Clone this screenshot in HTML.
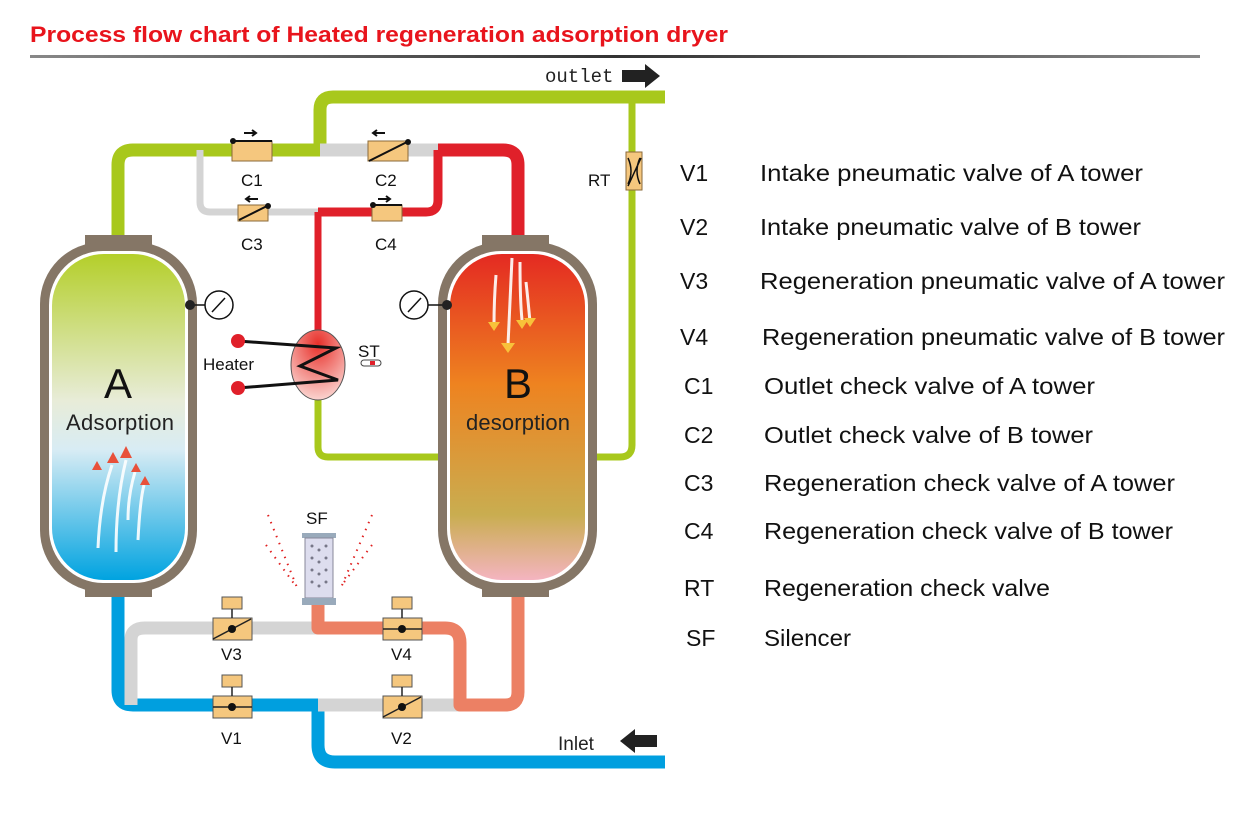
<!DOCTYPE html>
<html><head><meta charset="utf-8"><style>
body{margin:0;background:#fff;width:1236px;height:830px;overflow:hidden}
svg{position:absolute;left:0;top:0}
.t{font-family:"Liberation Sans",sans-serif;font-size:23px;fill:#111}
.l{font-family:"Liberation Sans",sans-serif;font-size:17px;fill:#111}
</style></head><body>
<svg width="1236" height="830" viewBox="0 0 1236 830">
<defs>
<linearGradient id="ga" x1="0" y1="0" x2="0" y2="1">
<stop offset="0" stop-color="#b4cf2a"/><stop offset="0.45" stop-color="#e8ecd8"/><stop offset="0.6" stop-color="#d8ecf4"/><stop offset="1" stop-color="#00a3e0"/></linearGradient>
<linearGradient id="gb" x1="0" y1="0" x2="0" y2="1">
<stop offset="0" stop-color="#e42a22"/><stop offset="0.4" stop-color="#ee8320"/><stop offset="0.8" stop-color="#c9ad50"/><stop offset="1" stop-color="#f4b4c0"/></linearGradient>
<radialGradient id="gh" cx="0.5" cy="0.2" r="0.9"><stop offset="0" stop-color="#e8302a"/><stop offset="1" stop-color="#fde8e4"/></radialGradient>
<linearGradient id="gl" x1="0" x2="1"><stop offset="0" stop-color="#888"/><stop offset="0.5" stop-color="#333"/><stop offset="1" stop-color="#888"/></linearGradient>
</defs>
<text x="30" y="42" font-family="Liberation Sans,sans-serif" font-size="22" font-weight="bold" fill="#e8141c" textLength="698" lengthAdjust="spacingAndGlyphs">Process flow chart of Heated regeneration adsorption dryer</text>
<rect x="30" y="55" width="1170" height="3" fill="url(#gl)"/>
<g fill="none" stroke-width="13" stroke-linejoin="round">
<path d="M320 150 V110 Q320 97 333 97 H665" stroke="#a8c81c"/>
<path d="M632 97 V445 Q632 457 620 457 H590" stroke="#a8c81c" stroke-width="7"/>
<path d="M118 238 V165 Q118 150 133 150 H320" stroke="#a8c81c"/>
<path d="M320 150 H438" stroke="#d4d4d4"/>
<path d="M438 150 H503 Q518 150 518 165 V238" stroke="#e0202a"/>
<path d="M438 150 V200 Q438 212 426 212 H318" stroke="#e0202a" stroke-width="9"/>
<path d="M200 150 V202 Q200 212 210 212 H318" stroke="#d4d4d4" stroke-width="7"/>
<path d="M318 212 V332" stroke="#e0202a" stroke-width="7"/>
<path d="M318 398 V447 Q318 457 328 457 H440" stroke="#a8c81c" stroke-width="7"/>
<path d="M118 585 V690 Q118 705 133 705 H318 V745 Q318 762 335 762 H665" stroke="#009fdf"/>
<path d="M131 705 V640 Q131 628 145 628 H318" stroke="#d4d4d4"/>
<path d="M318 705 H460" stroke="#d4d4d4"/>
<path d="M318 605 V628 H445 Q460 628 460 643 V705 H505 Q518 705 518 692 V585" stroke="#ec8064"/>
</g>
<g>
<rect x="85" y="235" width="67" height="12" fill="#857666"/>
<rect x="40" y="242" width="157" height="350" rx="62" fill="#857666"/>
<rect x="49" y="251" width="139" height="332" rx="54" fill="#fff"/>
<rect x="52" y="254" width="133" height="326" rx="52" fill="url(#ga)"/>
<rect x="85" y="585" width="67" height="12" fill="#857666"/>
<rect x="482" y="235" width="67" height="12" fill="#857666"/>
<rect x="438" y="242" width="159" height="350" rx="62" fill="#857666"/>
<rect x="447" y="251" width="141" height="332" rx="54" fill="#fff"/>
<rect x="450" y="254" width="135" height="326" rx="52" fill="url(#gb)"/>
<rect x="482" y="585" width="67" height="12" fill="#857666"/>
</g>
<text x="118" y="398" text-anchor="middle" font-family="Liberation Sans,sans-serif" font-size="42" fill="#111">A</text>
<text x="120" y="430" text-anchor="middle" font-family="Liberation Sans,sans-serif" font-size="22" fill="#222" textLength="108">Adsorption</text>
<text x="518" y="398" text-anchor="middle" font-family="Liberation Sans,sans-serif" font-size="42" fill="#111">B</text>
<text x="518" y="430" text-anchor="middle" font-family="Liberation Sans,sans-serif" font-size="22" fill="#222" textLength="104">desorption</text>
<g stroke="#fff" stroke-width="3" fill="none" opacity="0.9">
<path d="M98 548 Q100 500 112 465"/><path d="M116 552 Q116 500 126 460"/><path d="M128 520 Q128 495 135 472"/><path d="M138 540 Q140 500 144 485"/>
<path d="M512 258 Q510 300 508 345"/><path d="M520 262 Q520 300 522 320"/><path d="M526 282 Q528 300 530 322"/><path d="M496 275 Q494 300 494 325"/>
</g>
<g fill="#e8503a"><path d="M107 463 l6-11 6 11z"/><path d="M120 458 l6-12 6 12z"/><path d="M131 472 l5-9 5 9z"/><path d="M140 485 l5-9 5 9z"/><path d="M92 470 l5-9 5 9z"/></g>
<g fill="#f8c23a"><path d="M501 343 l7 10 7-10z"/><path d="M488 322 l6 9 6-9z"/><path d="M516 320 l6 9 6-9z"/><path d="M524 318 l6 9 6-9z"/></g>
<g stroke="#111" stroke-width="1.5" fill="#fff">
<line x1="190" y1="305" x2="205" y2="305"/><circle cx="219" cy="305" r="14"/>
<line x1="447" y1="305" x2="428" y2="305"/><circle cx="414" cy="305" r="14"/>
<line x1="212" y1="312" x2="225" y2="298"/><line x1="421" y1="298" x2="408" y2="312"/>
</g>
<circle cx="190" cy="305" r="5" fill="#222"/><circle cx="447" cy="305" r="5" fill="#222"/>
<ellipse cx="318" cy="365" rx="27" ry="35" fill="url(#gh)" stroke="#555" stroke-width="1"/>
<path d="M238 341 L336 348 L300 366 L338 380 L238 388" fill="none" stroke="#111" stroke-width="3"/>
<circle cx="238" cy="341" r="7" fill="#e0202a"/><circle cx="238" cy="388" r="7" fill="#e0202a"/>
<text x="203" y="370" class="l" font-size="18">Heater</text>
<text x="358" y="357" class="l" font-size="18">ST</text>
<rect x="361" y="360" width="20" height="6" rx="3" fill="#fff" stroke="#444"/><rect x="370" y="361" width="5" height="4" fill="#e0202a"/>
<g fill="#f5c77e" stroke="#8a6a3a" stroke-width="1">
<rect x="232" y="141" width="40" height="20"/><rect x="368" y="141" width="40" height="20"/>
<rect x="238" y="205" width="30" height="16"/><rect x="372" y="205" width="30" height="16"/>
<rect x="626" y="152" width="16" height="38"/>
</g>
<g stroke="#111" stroke-width="2" fill="none">
<line x1="233" y1="141" x2="272" y2="141"/><line x1="369" y1="161" x2="407" y2="142"/>
<line x1="239" y1="220" x2="267" y2="206"/><line x1="373" y1="205" x2="402" y2="205"/>
<path d="M244 133h12m-4-3l4 3-4 3M385 133h-12m4-3l-4 3 4 3M258 199h-12m4-3l-4 3 4 3M378 199h12m-4-3l4 3-4 3"/>
<path d="M628 158 Q634 171 628 184 M640 158 Q634 171 640 184 M628 186 L641 158" stroke-width="1.5"/>
</g>
<circle cx="233" cy="141" r="3" fill="#111"/><circle cx="408" cy="142" r="3" fill="#111"/><circle cx="268" cy="206" r="3" fill="#111"/><circle cx="373" cy="205" r="3" fill="#111"/>
<g class="l"><text x="241" y="186">C1</text><text x="375" y="186">C2</text><text x="241" y="250">C3</text><text x="375" y="250">C4</text><text x="588" y="186">RT</text></g>
<g fill="#f5c77e" stroke="#555" stroke-width="1">
<rect x="213" y="618" width="39" height="22"/><rect x="383" y="618" width="39" height="22"/>
<rect x="213" y="696" width="39" height="22"/><rect x="383" y="696" width="39" height="22"/>
<rect x="222" y="597" width="20" height="12"/><rect x="392" y="597" width="20" height="12"/>
<rect x="222" y="675" width="20" height="12"/><rect x="392" y="675" width="20" height="12"/>
</g>
<g stroke="#222" stroke-width="1.5">
<line x1="232" y1="609" x2="232" y2="618"/><line x1="402" y1="609" x2="402" y2="618"/>
<line x1="232" y1="687" x2="232" y2="696"/><line x1="402" y1="687" x2="402" y2="696"/>
<line x1="213" y1="639" x2="251" y2="619"/><line x1="383" y1="629" x2="422" y2="629"/>
<line x1="213" y1="707" x2="252" y2="707"/><line x1="383" y1="717" x2="421" y2="697"/>
</g>
<g fill="#111"><circle cx="232" cy="629" r="4"/><circle cx="402" cy="629" r="4"/><circle cx="232" cy="707" r="4"/><circle cx="402" cy="707" r="4"/></g>
<g class="l"><text x="221" y="660">V3</text><text x="391" y="660">V4</text><text x="221" y="744">V1</text><text x="391" y="744">V2</text><text x="306" y="524">SF</text></g>
<rect x="302" y="533" width="34" height="5" fill="#9ab" />
<rect x="305" y="538" width="28" height="60" fill="#dde" stroke="#889"/>
<rect x="302" y="598" width="34" height="7" fill="#9ab"/>
<g fill="#778"><circle cx="312" cy="546" r="1.5"/><circle cx="319" cy="550" r="1.5"/><circle cx="326" cy="546" r="1.5"/><circle cx="312" cy="558" r="1.5"/><circle cx="319" cy="562" r="1.5"/><circle cx="326" cy="558" r="1.5"/><circle cx="312" cy="570" r="1.5"/><circle cx="319" cy="574" r="1.5"/><circle cx="326" cy="570" r="1.5"/><circle cx="312" cy="582" r="1.5"/><circle cx="319" cy="586" r="1.5"/><circle cx="326" cy="582" r="1.5"/></g>
<g stroke="#e02020" stroke-width="2" stroke-dasharray="1.5 6" fill="none">
<path d="M268 515 L298 590"/><path d="M266 545 L295 585"/><path d="M372 515 L340 590"/><path d="M372 545 L342 585"/>
</g>
<text x="545" y="82" font-family="Liberation Mono,monospace" font-size="19" fill="#222">outlet</text>
<path d="M622 70 H645 V64 L660 76 L645 88 V82 H622z" fill="#222"/>
<text x="558" y="750" font-family="Liberation Sans,sans-serif" font-size="19" fill="#222">Inlet</text>
<path d="M657 735 H635 V729 L620 741 L635 753 V747 H657z" fill="#222"/>
<g class="t" lengthAdjust="spacingAndGlyphs">
<text x="680" y="181">V1</text><text x="760" y="181" textLength="383" lengthAdjust="spacingAndGlyphs">Intake pneumatic valve of A tower</text>
<text x="680" y="235">V2</text><text x="760" y="235" textLength="381" lengthAdjust="spacingAndGlyphs">Intake pneumatic valve of B tower</text>
<text x="680" y="289">V3</text><text x="760" y="289" textLength="465" lengthAdjust="spacingAndGlyphs">Regeneration pneumatic valve of A tower</text>
<text x="680" y="345">V4</text><text x="762" y="345" textLength="463" lengthAdjust="spacingAndGlyphs">Regeneration pneumatic valve of B tower</text>
<text x="684" y="394">C1</text><text x="764" y="394" textLength="331" lengthAdjust="spacingAndGlyphs">Outlet check valve of A tower</text>
<text x="684" y="443">C2</text><text x="764" y="443" textLength="329" lengthAdjust="spacingAndGlyphs">Outlet check valve of B tower</text>
<text x="684" y="491">C3</text><text x="764" y="491" textLength="411" lengthAdjust="spacingAndGlyphs">Regeneration check valve of A tower</text>
<text x="684" y="539">C4</text><text x="764" y="539" textLength="409" lengthAdjust="spacingAndGlyphs">Regeneration check valve of B tower</text>
<text x="684" y="596">RT</text><text x="764" y="596" textLength="286" lengthAdjust="spacingAndGlyphs">Regeneration check valve</text>
<text x="686" y="646">SF</text><text x="764" y="646" textLength="87" lengthAdjust="spacingAndGlyphs">Silencer</text>
</g>
</svg>
</body></html>
